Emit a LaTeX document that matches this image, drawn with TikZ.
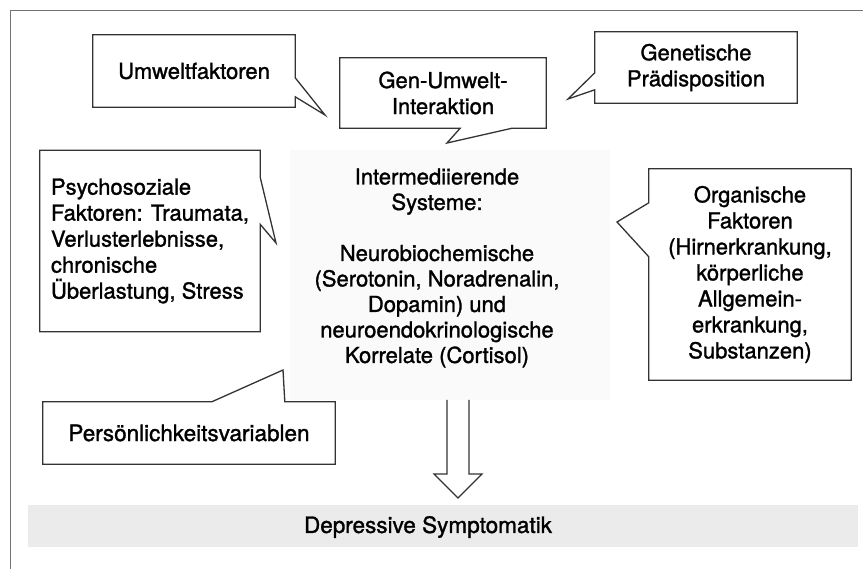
\documentclass[tikz,border=0pt]{standalone}
\usepackage{fontspec}
\setmainfont{TeX Gyre Heros}[FakeBold=1.3]
\usetikzlibrary{calc}

\begin{document}
\begin{tikzpicture}[x=1pt, y=-1pt,
		bubble/.style={
			draw=none,
			rectangle,
			inner sep=0pt,
			align=center,
			text=black,
			font=\fontsize{22}{26}\selectfont,
		},
		outline/.style={draw=black!80, line width=1.3pt, line join=miter},
		frameline/.style={draw=black!55, line width=0.9pt}]
		\useasboundingbox (0,0) rectangle (863,569);
		
		% raster behind the middle text and the result band
		\fill[black!2] (290,150) rectangle (610,400);
		\fill[black!8] (28,505) rectangle (858,547);
		\draw[frameline] (10,569) -- (10,10) -- (863,10);
		
		\node[bubble, minimum width=202pt, minimum height=72pt] (umw) at (194,71) {Umweltfaktoren};
		\node[bubble, minimum width=206pt, minimum height=70pt] (gen) at (443,93) {Gen-Umwelt-\\Interaktion};
		\node[bubble, minimum width=202pt, minimum height=71pt] (genet) at (696,67.5) {Genetische\\Prädisposition};
		\node[bubble, minimum width=220pt, minimum height=181pt, align=left] (psy) at (150,241) {Psychosoziale\\Faktoren: Traumata,\\Verlusterlebnisse,\\chronische\\Überlastung, Stress};
		\node[bubble, minimum width=292pt, minimum height=62pt, font=\fontsize{22.5}{26}\selectfont] (pers) at (189,433) {Persönlichkeitsvariablen};
		\node[bubble, minimum width=202pt, minimum height=211pt] (org) at (750,274.5) {Organische\\Faktoren\\(Hirnerkrankung,\\körperliche\\Allgemein-\\erkrankung,\\Substanzen)};
		\node[bubble, font=\fontsize{22}{25.5}\selectfont] (inter) at (437,268) {Intermediierende\\Systeme:\\[25.5pt]Neurobiochemische\\(Serotonin, Noradrenalin,\\Dopamin) und\\neuroendokrinologische\\Korrelate (Cortisol)};
		\node[bubble, font=\fontsize{22.5}{26}\selectfont] (dep) at (428,527) {Depressive Symptomatik};
		
		\coordinate (umwtip) at (325,115);
		\coordinate (gentip) at (447,143);
		\coordinate (genettip) at (568,99);
		\coordinate (psytip) at (276,243);
		\coordinate (perstip) at (283,370);
		\coordinate (orgtip) at (617,222);
		\coordinate (arrtip) at (458,498);
		
		% speech bubble outlines
		\draw[outline] (umw.north west) -- (umw.north east) -- ([yshift=-43pt]umw.north east) -- (umwtip) -- ([yshift=-62pt]umw.north east) -- (umw.south east) -- (umw.south west) -- cycle;
		\draw[outline] (gen.north west) -- (gen.north east) -- (gen.south east) -- ([xshift=-34pt]gen.south east) -- (gentip) -- ([xshift=-86pt]gen.south east) -- (gen.south west) -- cycle;
		\draw[outline] (genet.north east) -- (genet.north west) -- ([yshift=-41pt]genet.north west) -- (genettip) -- ([yshift=-58pt]genet.north west) -- (genet.south west) -- (genet.south east) -- cycle;
		\draw[outline] (psy.north west) -- (psy.north east) -- ([yshift=-27pt]psy.north east) -- (psytip) -- ([yshift=-74pt]psy.north east) -- (psy.south east) -- (psy.south west) -- cycle;
		\draw[outline] (pers.south west) -- (pers.north west) -- ([xshift=169pt]pers.north west) -- (perstip) -- ([xshift=242pt]pers.north west) -- (pers.north east) -- (pers.south east) -- cycle;
		\draw[outline] (org.north east) -- (org.north west) -- ([yshift=-34pt]org.north west) -- (orgtip) -- ([yshift=-88pt]org.north west) -- (org.south west) -- (org.south east) -- cycle;
		
		% hollow arrow to the result
		\draw[outline, line width=1.1pt] ($(arrtip)+(-11,-98)$) --++(0,74) --++(-13,0) -- (arrtip) --++(24,-24) --++(-13,0) --++(0,-74);
	\end{tikzpicture}
\end{document}
